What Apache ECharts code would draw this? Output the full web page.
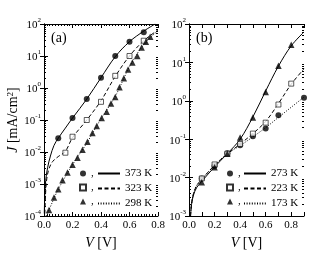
<!DOCTYPE html>
<html><head><meta charset="utf-8">
<script src="https://cdn.jsdelivr.net/npm/echarts@6/dist/echarts.min.js"></script>
<style>html,body{margin:0;padding:0;background:#fff}#c{width:330px;height:255px}</style>
</head><body><div id="c"></div>
<script>
// ---------- Panel (a) data ----------
const a373V = [0.1, 0.2, 0.3, 0.4, 0.5, 0.6, 0.7];
const a373J = [0.027, 0.115, 0.45, 2.1, 10, 28, 55];
const a323V = [0.15, 0.2, 0.3, 0.4, 0.5, 0.6, 0.7];
const a323J = [0.0095, 0.03, 0.1, 0.37, 2.4, 10, 30];
const a298V = [0.035, 0.07, 0.10, 0.13, 0.165, 0.20, 0.235, 0.27, 0.305, 0.34, 0.37, 0.405, 0.44, 0.47, 0.50, 0.53, 0.56, 0.59, 0.62, 0.655, 0.685, 0.715, 0.745];
const a298J = [1.55e-4, 3.8e-4, 6.8e-4, 1.3e-3, 2.3e-3, 4.0e-3, 6.6e-3, 0.0117, 0.021, 0.039, 0.065, 0.115, 0.18, 0.33, 0.52, 1.05, 2.0, 3.8, 6.3, 10, 18.6, 28, 40];
const a373FitV = [0.002, 0.006, 0.012, 0.025, 0.045, 0.07, 0.1, 0.15, 0.2, 0.3, 0.4, 0.5, 0.6, 0.7, 0.78];
const a373FitJ = [1.2e-4, 5e-4, 1.3e-3, 3.2e-3, 7.5e-3, 0.016, 0.027, 0.056, 0.115, 0.45, 2.1, 9.5, 28, 60, 100];
const a323FitV = [0.006, 0.012, 0.02, 0.035, 0.06, 0.1, 0.15, 0.2, 0.3, 0.4, 0.5, 0.6, 0.7, 0.8];
const a323FitJ = [1.2e-4, 6e-4, 1.5e-3, 3e-3, 5e-3, 7.2e-3, 0.0105, 0.028, 0.1, 0.4, 2.3, 10, 30, 65];
const a298FitV = [0.015, 0.035, 0.1, 0.2, 0.3, 0.4, 0.5, 0.6, 0.7, 0.8];
const a298FitJ = [1e-4, 1.55e-4, 6.8e-4, 4e-3, 0.019, 0.11, 0.55, 4.6, 23, 62];

// ---------- Panel (b) data ----------
const bCircV = [0.1, 0.2, 0.3, 0.4, 0.5, 0.6, 0.7, 0.9];
const bCircJ = [0.0095, 0.02, 0.043, 0.07, 0.12, 0.19, 0.42, 1.2];
const bSqV = [0.1, 0.2, 0.3, 0.4, 0.5, 0.6, 0.7, 0.8];
const bSqJ = [0.0095, 0.022, 0.042, 0.075, 0.14, 0.27, 0.8, 2.8];
const bTriV = [0.1, 0.2, 0.3, 0.4, 0.5, 0.6, 0.7, 0.8];
const bTriJ = [0.0076, 0.0185, 0.042, 0.11, 0.37, 1.7, 8.2, 29];
const bFitV = [0.012, 0.02, 0.035, 0.06, 0.1, 0.2, 0.3, 0.4, 0.5, 0.6, 0.7, 0.8, 0.9];
const bSolidJ = [1e-3, 2e-3, 3.5e-3, 5.5e-3, 8e-3, 0.019, 0.042, 0.1, 0.38, 1.8, 8, 27, 62];
const bDashJ = [1e-3, 2.1e-3, 3.8e-3, 6.2e-3, 9e-3, 0.021, 0.041, 0.075, 0.14, 0.29, 0.85, 2.7, 6.8];
const bDotJ = [1e-3, 2.1e-3, 3.8e-3, 6.2e-3, 9e-3, 0.021, 0.042, 0.068, 0.115, 0.2, 0.37, 0.68, 1.25];

// ---------- axes / labels ----------
const legendTextA = ['373 K', '323 K', '298 K'];
const legendTextB = ['273 K', '223 K', '173 K'];
const yRangeA = [1e-4, 100];
const yRangeB = [1e-3, 100];
function minorLog(lo, hi) {
  const out = [];
  for (let e = lo; e < hi; e++) for (let m = 2; m <= 9; m++) out.push(+(m * Math.pow(10, e)).toPrecision(3));
  return out;
}
const minorA = minorLog(-4, 2);
const minorB = minorLog(-3, 2);

const F = 'Liberation Serif';
const zip = (xs, ys) => xs.map((x, i) => [x, ys[i]]);
const black = '#000';

const supRich = {
  b: { fontSize: 11, fontFamily: F, color: black, lineHeight: 14, verticalAlign: 'bottom' },
  s: { fontSize: 7, fontFamily: F, color: black, lineHeight: 8, verticalAlign: 'top' }
};
const logLabel = v => '{b|10}{s|' + Math.round(Math.log10(v)) + '}';

function xAxisPair(grid, max, interval, minorSplit, labelFn) {
  const base = {
    gridIndex: grid, type: 'value', min: 0, max: max, interval: interval,
    axisLine: { show: true, lineStyle: { color: black, width: 1 } },
    axisTick: { show: true, inside: true, length: 4, lineStyle: { color: black } },
    minorTick: { show: minorSplit > 0, splitNumber: minorSplit || 5, length: 2, lineStyle: { color: black } },
    splitLine: { show: false }, minorSplitLine: { show: false }
  };
  return [
    Object.assign({}, base, {
      position: 'bottom',
      axisLabel: { show: true, fontSize: 11, fontFamily: F, color: black, margin: 4, formatter: labelFn },
      name: '{i|V} [V]', nameLocation: 'middle', nameGap: 17,
      nameTextStyle: { fontSize: 14, fontFamily: F, color: black,
        rich: { i: { fontSize: 14, fontFamily: F, fontStyle: 'italic', color: black } } }
    }),
    Object.assign({}, base, { position: 'top', axisLabel: { show: false } })
  ];
}
function yAxes(grid, range, minor, withName) {
  const base = {
    gridIndex: grid, type: 'log', logBase: 10, min: range[0], max: range[1], interval: 1,
    axisLine: { show: true, lineStyle: { color: black, width: 1 } },
    axisTick: { show: true, inside: true, length: 4, lineStyle: { color: black } },
    splitLine: { show: false }
  };
  const minorBase = {
    gridIndex: grid, type: 'log', logBase: 10, min: range[0], max: range[1],
    axisLine: { show: false }, axisLabel: { show: false }, splitLine: { show: false },
    axisTick: { show: true, inside: true, length: 2, customValues: minor, lineStyle: { color: black } }
  };
  const left = Object.assign({}, base, {
    position: 'left',
    axisLabel: { show: true, margin: 3, formatter: logLabel, rich: supRich }
  });
  if (withName) {
    Object.assign(left, {
      name: '{i|J} [mA/cm{s|2}]', nameLocation: 'middle', nameGap: 21, nameRotate: 90,
      nameTextStyle: { fontSize: 14, fontFamily: F, color: black,
        rich: { i: { fontSize: 14, fontFamily: F, fontStyle: 'italic', color: black },
                s: { fontSize: 9, fontFamily: F, color: black, verticalAlign: 'top', lineHeight: 10 } } }
    });
  }
  return [
    left,
    Object.assign({}, base, { position: 'right', axisLabel: { show: false } }),
    Object.assign({}, minorBase, { position: 'left' }),
    Object.assign({}, minorBase, { position: 'right' })
  ];
}

const xA = xAxisPair(0, 0.8, 0.2, 10, v => v.toFixed(1));
const xB = xAxisPair(1, 0.9, 0.1, 0, v => (Math.round(v * 10) % 2 === 0 ? v.toFixed(1) : ''));
const yA = yAxes(0, yRangeA, minorA, true);
const yB = yAxes(1, yRangeB, minorB, false);

function fit(name, xi, yi, xs, ys, type) {
  return {
    name: name, type: 'line', xAxisIndex: xi, yAxisIndex: yi, data: zip(xs, ys),
    symbol: 'none', showSymbol: false, smooth: 0.35, z: 2, clip: true,
    lineStyle: { color: black, width: 1, type: type },
    itemStyle: { color: black }
  };
}
const dashT = [4, 2.5];
const dotT = [1, 1.6];
function pts(name, xi, yi, xs, ys, symbol, size, open) {
  return {
    name: name, type: 'scatter', xAxisIndex: xi, yAxisIndex: yi, data: zip(xs, ys),
    symbol: symbol, symbolSize: size, z: 5,
    itemStyle: open ? { color: '#fff', borderColor: black, borderWidth: 0.8 } : { color: black }
  };
}

const series = [
  fit(legendTextA[0], 0, 0, a373FitV, a373FitJ, 'solid'),
  fit(legendTextA[1], 0, 0, a323FitV, a323FitJ, dashT),
  fit(legendTextA[2], 0, 0, a298FitV, a298FitJ, dotT),
  pts('pa1', 0, 0, a373V, a373J, 'circle', 6, false),
  pts('pa2', 0, 0, a323V, a323J, 'rect', 5, true),
  pts('pa3', 0, 0, a298V, a298J, 'triangle', 6.5, false),
  fit(legendTextB[0], 2, 4, bFitV, bSolidJ, 'solid'),
  fit(legendTextB[1], 2, 4, bFitV, bDashJ, dashT),
  fit(legendTextB[2], 2, 4, bFitV, bDotJ, dotT),
  pts('pb1', 2, 4, bCircV, bCircJ, 'circle', 6, false),
  pts('pb2', 2, 4, bSqV, bSqJ, 'rect', 5, true),
  pts('pb3', 2, 4, bTriV, bTriJ, 'triangle', 6.5, false)
];

function markerLegend(left, names) {
  return { left: left, top: 168, orient: 'vertical', padding: 0, itemGap: 3, itemWidth: 6, itemHeight: 6,
    data: names, formatter: () => ',', selectedMode: false,
    textStyle: { fontSize: 11, fontFamily: F, color: black } };
}
function lineLegend(left, names) {
  return { left: left, top: 168, orient: 'vertical', padding: 0, itemGap: 4, itemWidth: 22, itemHeight: 10,
    data: names, selectedMode: false,
    itemStyle: { opacity: 0, color: 'rgba(0,0,0,0)', borderWidth: 0 },
    textStyle: { fontSize: 11, fontFamily: F, color: black, lineHeight: 10 } };
}

const option = {
  animation: false,
  backgroundColor: '#fff',
  title: [
    { text: '(a)', left: 51, top: 31, padding: 0, textStyle: { fontSize: 14, fontFamily: F, fontWeight: 'normal', color: black } },
    { text: '(b)', left: 196, top: 31, padding: 0, textStyle: { fontSize: 14, fontFamily: F, fontWeight: 'normal', color: black } }
  ],
  grid: [
    { left: 44, top: 24, width: 114, height: 192, containLabel: false, outerBoundsMode: 'none' },
    { left: 189, top: 24, width: 115, height: 192, containLabel: false, outerBoundsMode: 'none' }
  ],
  xAxis: [...xA, ...xB],
  yAxis: [...yA, ...yB],
  legend: [
    markerLegend(79, ['pa1', 'pa2', 'pa3']),
    lineLegend(97, legendTextA),
    markerLegend(226, ['pb1', 'pb2', 'pb3']),
    lineLegend(243, legendTextB)
  ],
  series: series
};
const chart = echarts.init(document.getElementById('c'), null, { renderer: 'canvas' });
chart.setOption(option);
</script></body></html>
